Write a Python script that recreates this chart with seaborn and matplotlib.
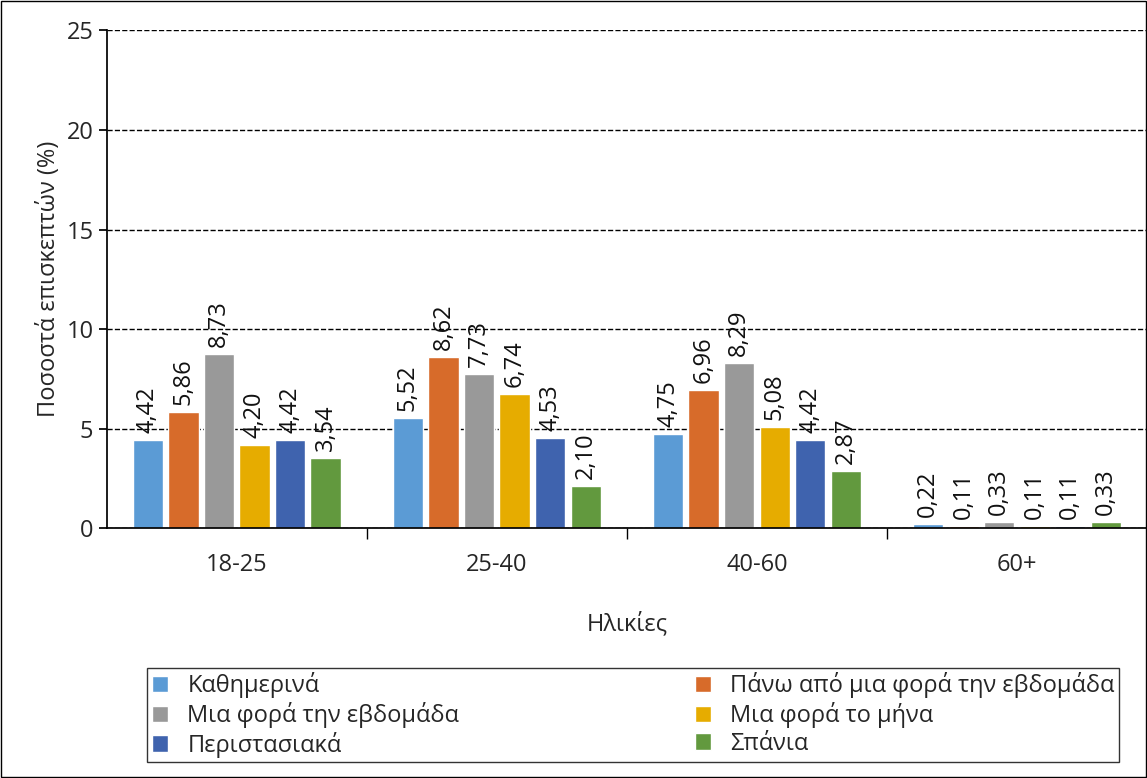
import matplotlib
matplotlib.use("Agg")
import matplotlib.pyplot as plt
import seaborn as sns
import pandas as pd
from matplotlib.patches import Rectangle

ages = ["18-25", "25-40", "40-60", "60+"]
freqs = ["Καθημερινά", "Πάνω από μια φορά την εβδομάδα", "Μια φορά την εβδομάδα",
         "Μια φορά το μήνα", "Περιστασιακά", "Σπάνια"]
values = {
    "Καθημερινά": [4.42, 5.52, 4.75, 0.22],
    "Πάνω από μια φορά την εβδομάδα": [5.86, 8.62, 6.96, 0.11],
    "Μια φορά την εβδομάδα": [8.73, 7.73, 8.29, 0.33],
    "Μια φορά το μήνα": [4.20, 6.74, 5.08, 0.11],
    "Περιστασιακά": [4.42, 4.53, 4.42, 0.11],
    "Σπάνια": [3.54, 2.10, 2.87, 0.33],
}
colors = ["#5B9BD5", "#D76B2A", "#999999", "#E6AC00", "#3F63AE", "#62993E"]

rows = [(a, f, values[f][i]) for f in freqs for i, a in enumerate(ages)]
df = pd.DataFrame(rows, columns=["age", "freq", "val"])

sns.set_theme(style="white")
plt.rcParams["font.family"] = ["Open Sans", "DejaVu Sans"]
FS = 17

fig = plt.figure(figsize=(11.47, 7.78), dpi=100)
ax = fig.add_axes([0.093, 0.321, 0.907, 0.640])
sns.barplot(data=df, x="age", y="val", hue="freq", hue_order=freqs, order=ages,
            palette=colors, width=0.82, gap=0.15, ax=ax, legend=True, saturation=1)

for cont in ax.containers:
    ax.bar_label(cont, labels=[f"{v:.2f}".replace(".", ",") for v in cont.datavalues],
                 rotation=90, padding=5, fontsize=FS, color="#111111")

ax.set_ylim(0, 25)
ax.set_yticks([0, 5, 10, 15, 20, 25])
ax.set_xlim(-0.5, 3.5)
ax.yaxis.grid(True, linestyle="--", color="black", linewidth=1)
ax.set_axisbelow(True)
for s in ["top", "right"]:
    ax.spines[s].set_visible(False)
for s in ["left", "bottom"]:
    ax.spines[s].set_color("black")
ax.tick_params(axis="y", labelsize=FS, left=True, length=6, color="black")
ax.tick_params(axis="x", labelsize=FS, bottom=False, pad=12)
ax.set_xticks([0.5, 1.5, 2.5], minor=True)
ax.tick_params(axis="x", which="minor", bottom=True, length=8, color="black", direction="out")
ax.set_xlabel("Ηλικίες", fontsize=FS, labelpad=25)
ax.set_ylabel("Ποσοστά επισκεπτών (%)", fontsize=FS)

handles, labels = ax.get_legend_handles_labels()
ax.get_legend().remove()
order = [0, 2, 4, 1, 3, 5]
leg = fig.legend([handles[i] for i in order], [labels[i] for i in order], ncol=2,
                 loc="lower left", bbox_to_anchor=(0.118, 0.005, 0.868, 0.12), mode="expand",
                 fontsize=FS, frameon=True, fancybox=False, edgecolor="black",
                 handlelength=0.7, handleheight=0.7, borderpad=0.2, labelspacing=0.15)
leg.get_frame().set_linewidth(1)

fig.patches.append(Rectangle((0.001, 0.001), 0.998, 0.998, transform=fig.transFigure,
                             fill=False, edgecolor="black", linewidth=1))
fig.savefig("out.png", dpi=100)
